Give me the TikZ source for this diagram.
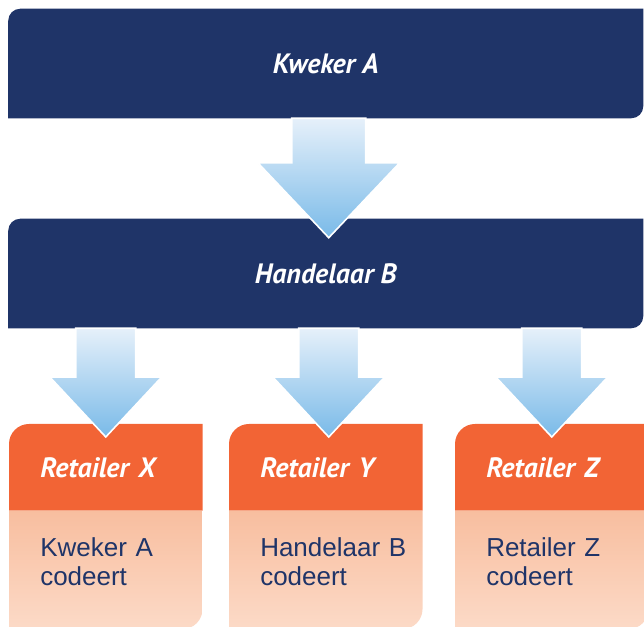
\documentclass[tikz,border=0pt]{standalone}
\usepackage{fontspec}
\setmainfont{Liberation Sans}
\newfontfamily\headfont{PT Sans}
\usetikzlibrary{calc,backgrounds}

\definecolor{navy}{HTML}{1F3468}
\definecolor{retorange}{HTML}{F26435}
\definecolor{peachtop}{HTML}{F8BE9F}
\definecolor{peachbot}{HTML}{FCDAC7}
\definecolor{arrowtop}{HTML}{E6F0FA}
\definecolor{arrowbot}{HTML}{79BAE8}

\tikzset{
  bar/.style={minimum width=475.9pt, minimum height=81.75pt, inner sep=0pt, text=white,
    font=\headfont\bfseries\itshape\fontsize{21}{23}\selectfont},
  cardhead/.style={anchor=north west, minimum height=64.5pt, text width=98.25pt,
    inner xsep=23.25pt, inner ysep=0pt, align=left, text=white,
    font=\headfont\bfseries\itshape\fontsize{21}{23}\selectfont},
  cardbody/.style={anchor=north west, minimum height=88.5pt, text width=98.25pt,
    inner xsep=23.25pt, inner ysep=0pt, align=left, text=navy, text depth=34.5pt,
    font=\fontsize{19.5}{21.75}\selectfont},
  flow/.style={draw=white, line width=1.2pt, line join=miter, top color=arrowtop, bottom color=arrowbot}
}

% navy bar: rounded top left and bottom right
\newcommand{\barfill}[1]{%
  \fill[navy] (#1.south west) -- ($(#1.north west)+(0,12)$)
    arc[start angle=180, end angle=90, radius=9pt] -- (#1.north east)
    -- ($(#1.south east)-(0,12)$) arc[start angle=0, end angle=-90, radius=9pt] -- cycle;}

% retailer card: orange head, peach body
\newcommand{\cardfill}[2]{%
  \fill[retorange] (#1.south west) -- ($(#1.north west)+(0,20)$)
    arc[start angle=180, end angle=90, radius=15pt] -- (#1.north east) -- (#1.south east) -- cycle;
  \shade[top color=peachtop, bottom color=peachbot] (#2.north west) -- (#2.north east)
    -- ($(#2.south east)-(0,20)$) arc[start angle=0, end angle=-90, radius=15pt]
    -- (#2.south west) -- cycle;}

% block arrow: start, tip, shaft half width, head half width, head length
\newcommand{\flowarrow}[5]{%
  \path[flow] let \p1=(#1), \p2=(#2) in
    ({\x2-#3},\y1) -- ({\x2-#3},{\y2+#5}) -- ({\x2-#4},{\y2+#5}) -- (\p2)
    -- ({\x2+#4},{\y2+#5}) -- ({\x2+#3},{\y2+#5}) -- ({\x2+#3},\y1) -- cycle;}

\begin{document}
\begin{tikzpicture}[x=0.75pt, y=-0.75pt]
  \useasboundingbox (0,0) rectangle (644,627);

  \node (kweker) [bar] at (325.75,63.5) {Kweker A};
  \node (handelaar) [bar] at (325.75,273.5) {Handelaar B};

  \node (retx) [cardhead] at (9,424) {Retailer~X};
  \node (rety) [cardhead] at (229,424) {Retailer~Y};
  \node (retz) [cardhead] at (455,424) {Retailer~Z};
  \node (bodyx) [cardbody] at (retx.south west) {Kweker~A\\codeert};
  \node (bodyy) [cardbody] at (rety.south west) {Handelaar~B\\codeert};
  \node (bodyz) [cardbody] at (retz.south west) {Retailer~Z\\codeert};

  \begin{scope}[on background layer]
    \barfill{kweker}
    \barfill{handelaar}
    \cardfill{retx}{bodyx}
    \cardfill{rety}{bodyy}
    \cardfill{retz}{bodyz}
  \end{scope}

  \flowarrow{kweker.south}{$(handelaar.north)+(3,19)$}{27.75pt}{53.25pt}{56.25pt}
  \flowarrow{handelaar.south -| retx.north}{$(retx.north)+(0,13)$}{22.5pt}{42pt}{45pt}
  \flowarrow{handelaar.south -| rety.north}{$(rety.north)+(3,13)$}{22.5pt}{42pt}{45pt}
  \flowarrow{handelaar.south -| retz.north}{$(retz.north)+(0,13)$}{22.5pt}{42pt}{45pt}
\end{tikzpicture}
\end{document}
